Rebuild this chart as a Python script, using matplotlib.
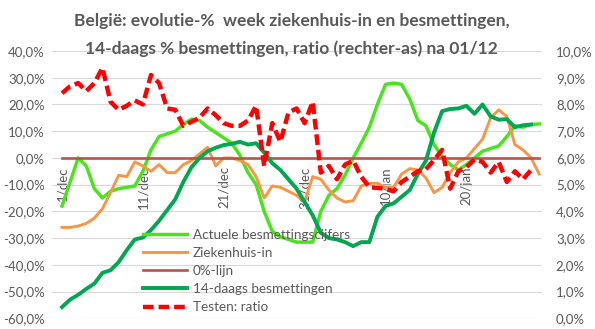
import numpy as np
import matplotlib
matplotlib.use("Agg")
import matplotlib.pyplot as plt
from matplotlib.ticker import FixedLocator, FuncFormatter

plt.rcParams['font.family'] = ['Lato', 'DejaVu Sans']

# ---- data -------------------------------------------------------------
dates = [f"{d}/dec" for d in range(1, 32)] + [f"{d}/jan" for d in range(1, 30)]
tick_idx = [0, 10, 20, 30, 40, 50]
tick_labels = [dates[i] for i in tick_idx]

actuele = [-18, -9, 0, -3, -11.5, -15, -12.5, -11.5, -11, -10.5,
           -5, 3, 8, 9, 10, 12.5, 14.5, 14, 11.5, 9.5,
           7.5, 5.5, 1, -5.5, -10, -20, -27.5, -29.5, -30.5, -31.5,
           -31.5, -31.5, -20, -14, -11.5, -6.5, 0, 5.5, 11.5, 20,
           27.5, 28, 27.5, 22, 14, 12, 5, 0.5, -2.5, -4.5,
           -2.5, 0, 2.5, 3.5, 4.5, 8, 12, 11.5, 12.5, 12.7]

ziekenhuis = [-26, -26, -25.5, -24.5, -22.5, -19, -13, -6.5, -7, -1.5,
              -3, -5, -2.5, -5.5, -5.5, -2.5, -1, 1.5, 4, -3,
              0, 0, -1, -2.5, -7, -15, -10.5, -11, -12.5, -14,
              -16.5, -7, -8, -12, -15, -16.5, -16, -10.5, -9.5, -9.5,
              -11, -11, -6, -4, -4.5, -7.5, -13, -11, -5.5, -1.5,
              0, 3.5, 7, 15, 18, 15.5, 5, 3, 0, -6]

nul_lijn = [0] * 60

veertiendaags = [-55.8, -53, -51.2, -49, -47, -43, -42, -39, -34.5, -30.5,
                 -29.8, -27, -23.5, -19.5, -15.5, -9, -3.5, 0, 2.5, 3.8,
                 4.8, 5.3, 6, 5, 5.5, 2, -2, -4.5, -8, -11.5,
                 -16.5, -21.5, -28, -30, -30.5, -31.5, -33, -31.5, -31.5, -22,
                 -18, -17, -14.5, -12, -6, -1, 9.5, 17.5, 18.3, 18.5,
                 19.5, 16.5, 20, 15.5, 14.3, 14.5, 11.5, 12.2, 12.5, np.nan]

ratio = [8.42, 8.68, 8.8, 8.5, 8.8, 9.37, 8.1, 7.8, 7.95, 8.15,
         8.0, 9.1, 8.8, 7.85, 7.8, 7.2, 7.35, 7.5, 7.85, 7.6,
         7.3, 7.2, 7.2, 7.4, 7.95, 5.7, 7.3, 6.6, 7.7, 7.85,
         7.3, 8.1, 5.45, 5.7, 5.2, 5.75, 5.9, 5.3, 4.9, 4.88,
         4.84, 4.75, 5.1, 5.3, 5.5, 5.58, 5.92, 6.3, 4.85, 5.5,
         5.65, 5.94, 5.85, 5.45, 5.85, 5.1, 5.5, 5.2, 5.55, np.nan]

series_names = ["Actuele besmettingscijfers", "Ziekenhuis-in", "0%-lijn",
                "14-daags besmettingen", "Testen: ratio"]
title_lines = ["België: evolutie-%  week ziekenhuis-in en besmettingen,",
               "14-daags % besmettingen, ratio (rechter-as) na 01/12"]

# ---- figure -----------------------------------------------------------
W, H = 595, 329
fig = plt.figure(figsize=(W / 100, H / 100), dpi=100)
ax = fig.add_axes([52 / W, 1 - 318.3 / H, 490 / W, (318.3 - 51) / H])
ax2 = ax.twinx()

x = np.arange(len(dates))
gray = "#595959"

ax.spines["bottom"].set_position(("data", 0))
ax.spines["bottom"].set_color("none")
for s in ["top", "left", "right"]:
    ax.spines[s].set_visible(False)
    ax2.spines[s].set_visible(False)
ax2.spines["bottom"].set_visible(False)

l1, = ax.plot(x, actuele, color="#4BE31E", lw=2.5, zorder=3)
l2, = ax.plot(x, ziekenhuis, color="#F79646", lw=2.1, zorder=3)
l3, = ax.plot(x, nul_lijn, color="#C0504D", lw=1.9, zorder=3)
l4, = ax.plot(x, veertiendaags, color="#00A650", lw=2.8, zorder=3)
l5, = ax2.plot(x, ratio, color="#FF0000", lw=3.2, dashes=(2.4, 1.1),
               dash_capstyle="butt", zorder=4)

ax.set_xlim(-1.24, 59.35)
ax.set_ylim(-60, 40)
ax2.set_ylim(0, 10)

ax.yaxis.set_major_locator(FixedLocator(np.arange(-60, 41, 10)))
ax.yaxis.set_major_formatter(FuncFormatter(lambda v, p: f"{v:.1f}%".replace(".", ",")))
ax2.yaxis.set_major_locator(FixedLocator(np.arange(0, 11, 1)))
ax2.yaxis.set_major_formatter(FuncFormatter(lambda v, p: f"{v:.1f}%".replace(".", ",")))

ax.grid(axis="y", color="#D9D9D9", lw=0.8, zorder=0)
ax.set_axisbelow(True)

ax.set_xticks(tick_idx)
ax.set_xticklabels(tick_labels)
ax.tick_params(axis="x", length=0, pad=6, labelsize=9.5, labelcolor=gray,
               labelrotation=90)
ax.tick_params(axis="y", length=0, pad=5, labelsize=9.5, labelcolor=gray)
ax2.tick_params(axis="y", length=0, pad=10, labelsize=9.5, labelcolor=gray)

fig.text(0.49, 1 - 21 / H, title_lines[0], ha="center", va="center",
         fontsize=12.5, fontweight="bold", color=gray)
fig.text(0.49, 1 - 48.5 / H, title_lines[1], ha="center", va="center",
         fontsize=12.5, fontweight="bold", color=gray)

leg = ax2.legend([l1, l2, l3, l4, l5], series_names, loc="upper left",
                 bbox_to_anchor=(143 / W, 1 - 229 / H), bbox_transform=fig.transFigure,
                 frameon=False, fontsize=9.7, handlelength=3.3, handletextpad=0.4,
                 labelspacing=0.45, borderpad=0, borderaxespad=0)
for t in leg.get_texts():
    t.set_color(gray)

fig.savefig("out.png", dpi=100)
